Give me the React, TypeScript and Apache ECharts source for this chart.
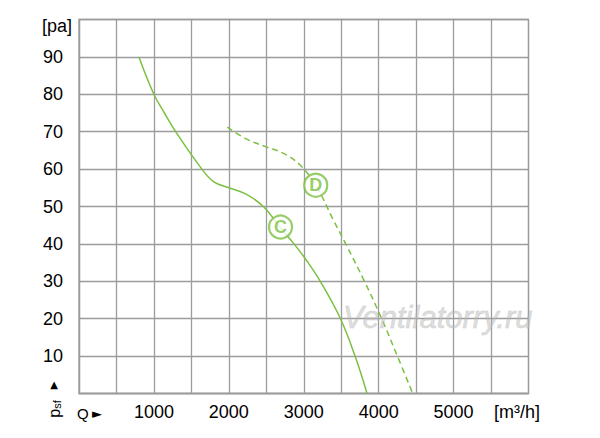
import React, { useEffect, useRef } from "react";
import * as echarts from "echarts";

const xTickLabels = [1000, 2000, 3000, 4000, 5000];
const yTickLabels = [10, 20, 30, 40, 50, 60, 70, 80, 90];

const curveC: [number, number][] = [
  [800, 90], [1000, 80], [1140, 75], [1290, 70], [1640, 60],
  [1800, 56.6], [2000, 55], [2230, 53.3], [2460, 50], [2690, 44.3],
  [2870, 40], [3040, 35.5], [3220, 30], [3490, 20], [3685, 10], [3845, 0],
];
const curveD: [number, number][] = [
  [1980, 71.2], [2240, 68], [2490, 66], [2730, 64.2], [2950, 61.1],
  [3160, 55.7], [3395, 46.4], [3560, 40], [3810, 30],
  [4040, 20], [4250, 10], [4455, 0],
];
const curveLabels: { name: string; value: [number, number] }[] = [
  { name: "C", value: [2690, 44.5] },
  { name: "D", value: [3160, 55.7] },
];

const GREEN = "#7cc042";
const GRID = "#9c9c9c";
const FONT = "'Liberation Sans', Arial, Helvetica, sans-serif";

export default function App() {
  const ref = useRef<HTMLDivElement>(null);
  useEffect(() => {
    document.body.style.margin = "0";
    if (!ref.current) return;
    const chart = echarts.init(ref.current, undefined, { renderer: "svg" });
    chart.setOption({
      animation: false,
      backgroundColor: "#ffffff",
      grid: { left: 79, top: 19.5, right: 71.5, bottom: 44.5, show: false },
      xAxis: {
        type: "value",
        min: 0,
        max: 6000,
        interval: 500,
        axisLine: { show: true, lineStyle: { color: GRID, width: 1.3 } },
        axisTick: { show: false },
        splitLine: { show: true, lineStyle: { color: GRID, width: 1.3 } },
        axisLabel: {
          margin: 9,
          fontSize: 18,
          fontFamily: FONT,
          color: "#000",
          formatter: (v: number) => (xTickLabels.includes(v) ? String(v) : ""),
        },
      },
      yAxis: {
        type: "value",
        min: 0,
        max: 100,
        interval: 10,
        axisLine: { show: true, lineStyle: { color: GRID, width: 1.3 } },
        axisTick: { show: false },
        splitLine: { show: true, lineStyle: { color: GRID, width: 1.3 } },
        axisLabel: {
          margin: 16,
          fontSize: 18,
          fontFamily: FONT,
          color: "#000",
          formatter: (v: number) => (yTickLabels.includes(v) ? String(v) : ""),
        },
      },
      graphic: [
        { type: "rect", shape: { x: 79, y: 19.5, width: 449.5, height: 374 }, style: { fill: "none", stroke: GRID, lineWidth: 1.3 }, silent: true, z: 1 },
        { type: "text", x: 72, y: 26, style: { text: "[pa]", fontSize: 18, fontFamily: FONT, fill: "#000", align: "right", verticalAlign: "middle" } },
        { type: "text", x: 494, y: 411.5, style: { text: "[m³/h]", fontSize: 18, fontFamily: FONT, fill: "#000", align: "left", verticalAlign: "middle", letterSpacing: 1.5 } },
        { type: "text", x: 77, y: 413, style: { text: "Q", fontSize: 15, fontFamily: FONT, fill: "#000", align: "left", verticalAlign: "middle" } },
        { type: "text", x: 92, y: 413, style: { text: "►", fontSize: 13, fontFamily: "'DejaVu Sans', sans-serif", fill: "#000", align: "left", verticalAlign: "middle" } },
        { type: "text", x: 54, y: 384, style: { text: "▲", fontSize: 10, fontFamily: "'DejaVu Sans', sans-serif", fill: "#000", align: "center", verticalAlign: "middle" } },
        {
          type: "text", x: 54, y: 409, rotation: Math.PI / 2,
          style: {
            text: "{p|p}{s|sf}", align: "center", verticalAlign: "middle",
            rich: {
              p: { fontSize: 16, fontFamily: FONT, fill: "#000" },
              s: { fontSize: 11, fontFamily: FONT, fill: "#000", padding: [6, 0, 0, 0] },
            },
          },
        },
        {
          type: "text", x: 343, y: 317, z: 10,
          style: {
            text: "Ventilatorry.ru", fontSize: 31, fontStyle: "italic", fontFamily: FONT,
            fill: "rgba(190,190,190,0.5)", stroke: "rgba(150,150,150,0.25)", lineWidth: 1,
            align: "left", verticalAlign: "middle",
          },
        },
      ],
      series: [
        {
          type: "line", data: curveC, smooth: 0.4, showSymbol: false, silent: true,
          lineStyle: { color: GREEN, width: 1.5 }, z: 3,
        },
        {
          type: "line", data: curveD, smooth: 0.4, showSymbol: false, silent: true,
          lineStyle: { color: GREEN, width: 1.5, type: [6, 4] }, z: 3,
        },
        {
          type: "scatter", data: curveLabels, symbol: "circle", symbolSize: 23, silent: true, z: 5,
          itemStyle: { color: "#ffffff", borderColor: GREEN, borderWidth: 2.2 },
          label: {
            show: true, position: "inside", formatter: (p: any) => p.name,
            color: GREEN, fontSize: 18, fontWeight: "bold", fontFamily: FONT,
          },
        },
      ],
    });
    return () => chart.dispose();
  }, []);
  return <div ref={ref} style={{ width: 600, height: 438 }} />;
}
